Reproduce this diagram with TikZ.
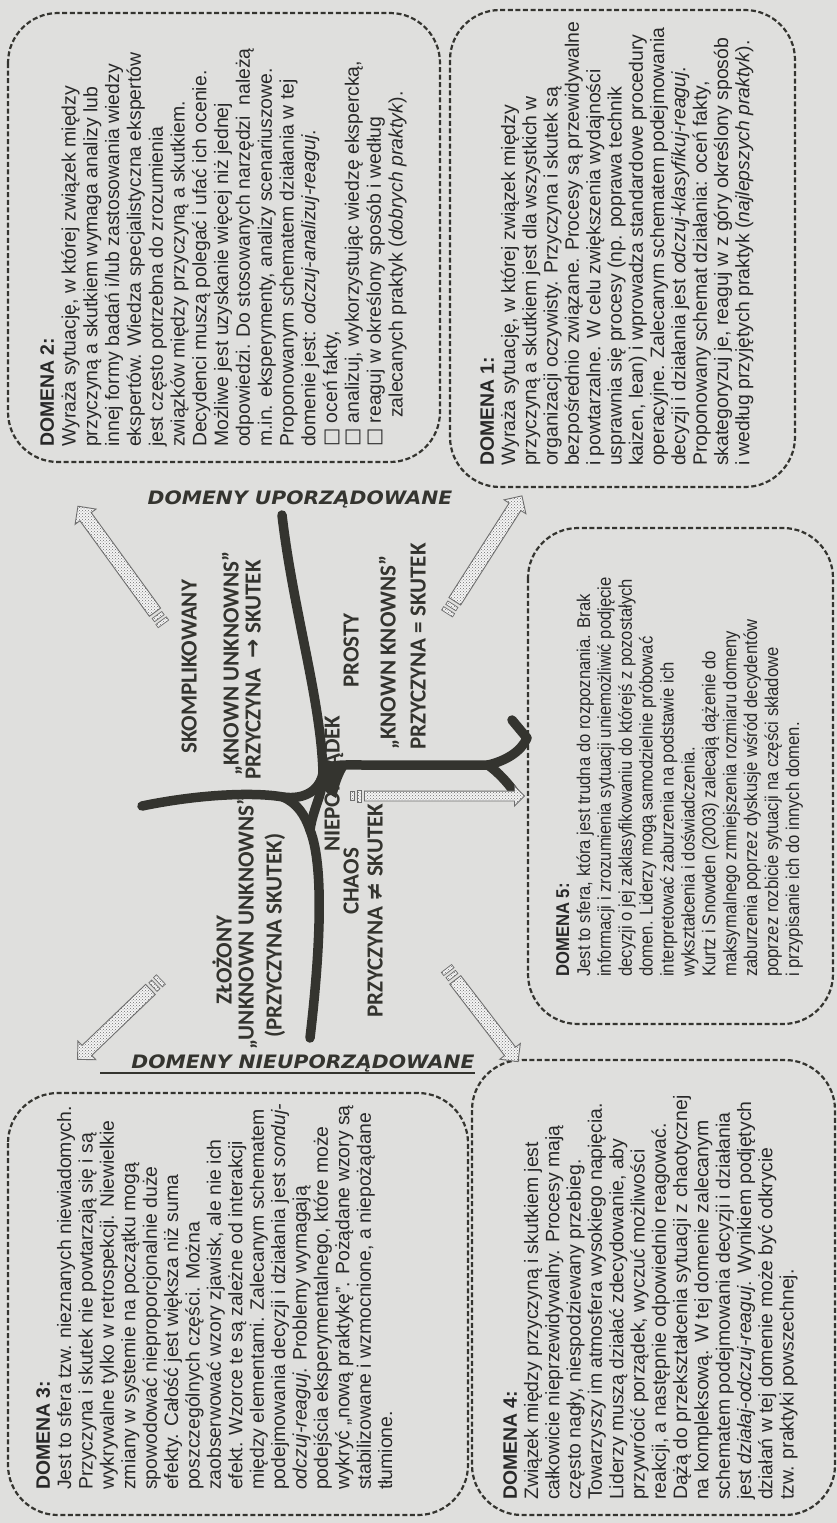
\documentclass[tikz,border=0pt]{standalone}
\usepackage{fontspec}
\usetikzlibrary{shapes.arrows,patterns,calc}
\setmainfont{Liberation Sans}
\newfontfamily\dfont{Liberation Sans}
\newfontfamily\nfont[FakeStretch=0.9]{Liberation Sans}
\newfontfamily\cfont{Carlito}
\newfontfamily\symfont{DejaVu Sans}
\newfontfamily\hfont[FakeStretch=1.1]{DejaVu Sans}
\definecolor{bgc}{RGB}{223,223,221}
\definecolor{txt}{RGB}{40,40,40}
\definecolor{ink}{RGB}{52,52,47}
\definecolor{hatch}{RGB}{110,110,110}
\tikzset{
  dbox/.style={draw=ink, line width=2.2pt, dash pattern=on 5pt off 2.6pt, rounded corners=50pt},
  dtext/.style={rotate=90, anchor=north west, inner sep=0pt, align=left, text=txt},
  clabel/.style={rotate=90, anchor=mid west, inner sep=0pt, text=ink, font=\cfont\bfseries\fontsize{23}{27}\selectfont},
  arm/.style={draw=ink, line width=9.5pt, line cap=round, line join=round},
  harrow/.style={single arrow, draw=hatch, line width=0.9pt, preaction={fill=white!70!bgc}, pattern=crosshatch dots, pattern color=hatch, inner sep=6.5pt, single arrow head extend=6pt},
  hbit/.style={rectangle, draw=hatch, line width=0.7pt, preaction={fill=white!70!bgc}, pattern=crosshatch dots, pattern color=hatch, inner sep=0pt, minimum width=4pt, minimum height=12pt},
  hlabel/.style={inner sep=0pt, text=ink, font=\hfont\bfseries\itshape\fontsize{18.5}{22}\selectfont}
}
\newcommand{\tailbits}[3]{%
  \node[hbit, rotate=#2] (#1b1) at ($(#1.tail)!-5pt!(#1.tip)$) {};
  \node[hbit, rotate=#2, minimum height=#3] (#1b2) at ($(#1.tail)!-12pt!(#1.tip)$) {};}
\begin{document}
\begin{tikzpicture}[x=1pt,y=-1pt]
\useasboundingbox (0,0) rectangle (837,1523);
\fill[bgc] (0,0) rectangle (837,1523);

% boxes
\draw[dbox] (8,13) rectangle (440,462);
\draw[dbox] (450,10) rectangle (795,487);
\draw[dbox] (528,528) rectangle (833,1024);
\draw[dbox] (8,1093) rectangle (468,1515);
\draw[dbox] (472,1060) rectangle (835,1515);

% DOMENA 2
\node[dtext, font=\dfont\fontsize{19.4}{21.8}\selectfont] (d2) at (40,447) {\textbf{DOMENA 2:}\\
Wyraża sytuację, w której związek między\\
przyczyną a skutkiem wymaga analizy lub\\
innej formy badań i/lub zastosowania wiedzy\\
ekspertów. Wiedza specjalistyczna ekspertów\\
jest często potrzebna do zrozumienia\\
związków między przyczyną a skutkiem.\\
Decydenci muszą polegać i ufać ich ocenie.\\
Możliwe jest uzyskanie więcej niż jednej\\
odpowiedzi. Do stosowanych narzędzi \ należą\\
m.in. eksperymenty, analizy scenariuszowe.\\
Proponowanym schematem działania w tej\\
domenie jest: \textit{odczuj-analizuj-reaguj}.\\
{\symfont □} oceń fakty,\\
{\symfont □} analizuj, wykorzystując wiedzę ekspercką,\\
{\symfont □} reaguj w określony sposób i według\\
\hspace*{1.5em}zalecanych praktyk (\textit{dobrych praktyk}).};

% DOMENA 1
\node[dtext, font=\dfont\fontsize{19.4}{21.3}\selectfont] (d1) at (480,466) {\textbf{DOMENA 1:}\\
Wyraża sytuację, w której związek między\\
przyczyną a skutkiem jest dla wszystkich w\\
organizacji oczywisty. Przyczyna i skutek są\\
bezpośrednio związane. Procesy są przewidywalne\\
i powtarzalne. W celu zwiększenia wydajności\\
usprawnia się procesy (np. poprawa technik\\
kaizen, lean) i wprowadza standardowe procedury\\
operacyjne. Zalecanym schematem podejmowania\\
decyzji i działania jest \textit{odczuj-klasyfikuj-reaguj}.\\
Proponowany schemat działania: oceń fakty,\\
skategoryzuj je, reaguj w z góry określony sposób\\
i według przyjętych praktyk (\textit{najlepszych praktyk}).};

% DOMENA 5
\node[dtext, font=\nfont\fontsize{18.5}{20.9}\selectfont] (d5) at (556,977) {\textbf{DOMENA 5:}\\
Jest to sfera, która jest trudna do rozpoznania. Brak\\
informacji i zrozumienia sytuacji uniemożliwić podjęcie\\
decyzji o jej zaklasyfikowaniu do którejś z pozostałych\\
domen. Liderzy mogą samodzielnie próbować\\
interpretować zaburzenia na podstawie ich\\
wykształcenia i doświadczenia.\\
Kurtz i Snowden (2003) zalecają dążenie do\\
maksymalnego zmniejszenia rozmiaru domeny\\
zaburzenia poprzez dyskusje wśród decydentów\\
poprzez rozbicie sytuacji na części składowe\\
i przypisanie ich do innych domen.};

% DOMENA 3
\node[dtext, font=\dfont\fontsize{19.4}{21.4}\selectfont] (d3) at (36,1490) {\textbf{DOMENA 3:}\\
Jest to sfera tzw. nieznanych niewiadomych.\\
Przyczyna i skutek nie powtarzają się i są\\
wykrywalne tylko w retrospekcji. Niewielkie\\
zmiany w systemie na początku mogą\\
spowodować nieproporcjonalnie duże\\
efekty. Całość jest większa niż suma\\
poszczególnych części. Można\\
zaobserwować wzory zjawisk, ale nie ich\\
efekt. Wzorce te są zależne od interakcji\\
między elementami. Zalecanym schematem\\
podejmowania decyzji i działania jest \textit{sonduj-}\\
\textit{odczuj-reaguj}. Problemy wymagają\\
podejścia eksperymentalnego, które może\\
wykryć „nową praktykę”. Pożądane wzory są\\
stabilizowane i wzmocnione, a niepożądane\\
tłumione.};

% DOMENA 4
\node[dtext, font=\dfont\fontsize{19.4}{21.3}\selectfont] (d4) at (503,1500) {\textbf{DOMENA 4:}\\
Związek między przyczyną i skutkiem jest\\
całkowicie nieprzewidywalny. Procesy mają\\
często nagły, niespodziewany przebieg.\\
Towarzyszy im atmosfera wysokiego napięcia.\\
Liderzy muszą działać zdecydowanie, aby\\
przywrócić porządek, wyczuć możliwości\\
reakcji, a następnie odpowiednio reagować.\\
Dążą do przekształcenia sytuacji z chaotycznej\\
na kompleksową. W tej domenie zalecanym\\
schematem podejmowania decyzji i działania\\
jest \textit{działaj-odczuj-reaguj}. Wynikiem podjętych\\
działań w tej domenie może być odkrycie\\
tzw. praktyki powszechnej.};

% headings
\node[hlabel] (hup) at (300,499) {DOMENY UPORZĄDOWANE};
\node[hlabel] (hnie) at (303,1063) {DOMENY NIEUPORZĄDOWANE};
\draw[ink, line width=1.6pt] (100,1073) -- (hnie.base east |- 0,1073);

% center labels
\node[clabel] (skomp) at (194,754) {SKOMPLIKOWANY};
\node[clabel] (ku) at (236,776) {„KNOWN UNKNOWNS”};
\node[clabel] (pts) at (258,780) {PRZYCZYNA \ {\symfont →} SKUTEK};
\node[clabel] (zl) at (229,1005) {ZŁOŻONY};
\node[clabel] (uu) at (251,1050) {„UNKNOWN UNKNOWNS”};
\node[clabel] (ps) at (279,1038) {(PRZYCZYNA SKUTEK)};
\node[clabel] (niep) at (337,852) {NIEPORZĄDEK};
\node[clabel] (prosty) at (356,688) {PROSTY};
\node[clabel] (kk) at (393,750) {„KNOWN KNOWNS”};
\node[clabel] (peq) at (423,750) {PRZYCZYNA = SKUTEK};
\node[clabel] (chaos) at (356,915) {CHAOS};
\node[clabel] (pne) at (380,1018) {PRZYCZYNA {\symfont ≠} SKUTEK};

% thick boundary lines
\coordinate (J) at (323,773);
\coordinate (L) at (283,797);
\coordinate (B) at (310,830);
\coordinate (F) at (488,765);
\coordinate (T) at (282,515);
\coordinate (W) at (142,806);
\coordinate (S) at (310,1038);
\draw[arm] (T) .. controls (293,610) and (321,700) .. (J);
\draw[arm] (W) .. controls (200,794) and (255,792) .. (L) .. controls (305,800) and (320,790) .. (J);
\draw[arm] (L) .. controls (297,803) and (305,815) .. (B) .. controls (326,870) and (318,970) .. (S);
\draw[arm] (J) .. controls (324,792) and (313,808) .. (B);
\draw[arm] (323,770) .. controls (332,764) and (345,765) .. (365,765) -- (F);
\draw[arm] (F) .. controls (505,761) and (521,752) .. (527,738) -- (512,720);
\draw[arm] (F) .. controls (498,772) and (508,783) .. (515,793);
\fill[ink] (320,762) -- (352,761) .. controls (343,772) and (339,785) .. (336,798) -- (326,792) -- cycle;

% hatched arrows
\node[harrow, minimum height=131pt, rotate=126] (a2) at (118.5,562) {};
\node[harrow, minimum height=125pt, rotate=57.5] (a1) at (486.5,551.5) {};
\node[harrow, minimum height=160pt, rotate=0, inner sep=4.5pt, single arrow head extend=5pt] (a5) at (442,796) {};
\node[harrow, minimum height=101pt, rotate=223.8] (a3) at (116.5,1022) {};
\node[harrow, minimum height=103pt, rotate=-52.5] (a4) at (484.5,1018) {};
\tailbits{a2}{126}{13pt}
\tailbits{a1}{57.5}{13pt}
\tailbits{a5}{0}{9pt}
\tailbits{a3}{223.8}{13pt}
\tailbits{a4}{-52.5}{13pt}
\end{tikzpicture}
\end{document}
